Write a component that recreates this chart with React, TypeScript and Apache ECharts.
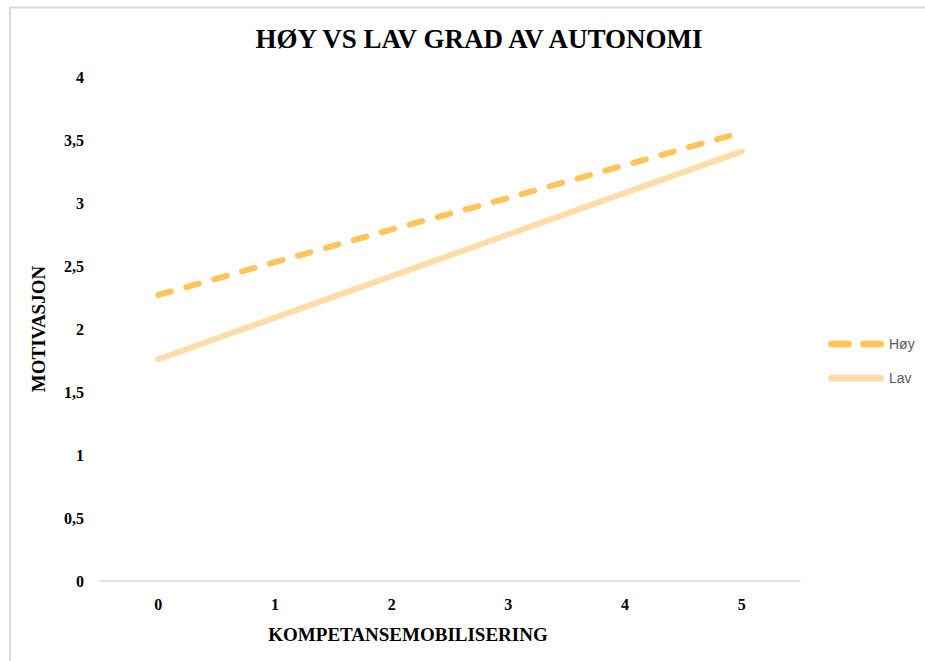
import React, { useEffect, useRef } from "react";
import * as echarts from "echarts";

const categories = ["0", "1", "2", "3", "4", "5"];
const hoyValues = [2.27, 2.53, 2.79, 3.04, 3.3, 3.56];
const lavValues = [1.76, 2.09, 2.42, 2.75, 3.08, 3.41];
const seriesNames = ["Høy", "Lav"];
const titleText = "HØY VS LAV GRAD AV AUTONOMI";
const xAxisName = "KOMPETANSEMOBILISERING";
const yAxisName = "MOTIVASJON";

const serif = "'Liberation Serif', 'Times New Roman', serif";
const sans = "'Liberation Sans', Arial, sans-serif";

const hoyColor = "#FFC55A";
const lavColor = "#FFDCA8";

const dashedIcon =
  "path://M3.5,0H17.5A3.5,3.5 0 0 1 17.5,7H3.5A3.5,3.5 0 0 1 3.5,0Z M31.5,0H45.5A3.5,3.5 0 0 1 45.5,7H31.5A3.5,3.5 0 0 1 31.5,0Z";
const solidIcon = "path://M3.5,0H52.5A3.5,3.5 0 0 1 52.5,7H3.5A3.5,3.5 0 0 1 3.5,0Z";

export default function App() {
  const ref = useRef<HTMLDivElement>(null);
  useEffect(() => {
    if (!ref.current) return;
    const chart = echarts.init(ref.current, undefined, { renderer: "svg" });
    chart.setOption({
      animation: false,
      backgroundColor: "#ffffff",
      title: {
        text: titleText,
        left: 474,
        textAlign: "center",
        top: 20,
        textStyle: { fontFamily: serif, fontWeight: "bold", fontSize: 27, color: "#000" },
      },
      graphic: [
        {
          type: "rect",
          shape: { x: 10, y: 7.5, width: 1200, height: 1000 },
          style: { fill: "none", stroke: "#d9d9d9", lineWidth: 2 },
          silent: true,
        },
      ],
      legend: {
        orient: "vertical",
        left: 823,
        top: 332,
        itemWidth: 56,
        itemHeight: 7,
        itemGap: 20,
        symbolKeepAspect: false,
        itemStyle: { borderWidth: 0 },
        textStyle: { fontFamily: sans, fontSize: 14, color: "#595959" },
        data: [
          { name: seriesNames[0], icon: dashedIcon, itemStyle: { color: hoyColor, borderWidth: 0 } },
          { name: seriesNames[1], icon: solidIcon, itemStyle: { color: lavColor, borderWidth: 0 } },
        ],
      },
      grid: { left: 100, right: 125, top: 77, bottom: 80, containLabel: false },
      xAxis: {
        type: "category",
        data: categories,
        boundaryGap: true,
        name: xAxisName,
        nameLocation: "middle",
        nameGap: 44,
        nameTextStyle: {
          fontFamily: serif,
          fontWeight: "bold",
          fontSize: 19,
          color: "#000",
          padding: [0, 84, 0, 0],
        },
        axisLine: { show: true, lineStyle: { color: "#d9d9d9", width: 1.5 } },
        axisTick: { show: false },
        axisLabel: { margin: 15, fontFamily: serif, fontWeight: "bold", fontSize: 16, color: "#000" },
        splitLine: { show: false },
      },
      yAxis: {
        type: "value",
        min: 0,
        max: 4,
        interval: 0.5,
        name: yAxisName,
        nameLocation: "middle",
        nameGap: 52,
        nameRotate: 90,
        nameTextStyle: { fontFamily: serif, fontWeight: "bold", fontSize: 19, color: "#000" },
        axisLine: { show: false },
        axisTick: { show: false },
        splitLine: { show: false },
        axisLabel: {
          margin: 16,
          fontFamily: serif,
          fontWeight: "bold",
          fontSize: 16,
          color: "#000",
          formatter: (v: number) => String(v).replace(".", ","),
        },
      },
      series: [
        {
          name: seriesNames[0],
          type: "line",
          data: hoyValues,
          symbol: "none",
          itemStyle: { color: hoyColor },
          lineStyle: { color: hoyColor, width: 6, type: [13, 16], cap: "round" },
        },
        {
          name: seriesNames[1],
          type: "line",
          data: lavValues,
          symbol: "none",
          itemStyle: { color: lavColor },
          lineStyle: { color: lavColor, width: 6, type: "solid", cap: "round" },
        },
      ],
    });
    return () => chart.dispose();
  }, []);
  return (
    <div
      ref={ref}
      style={{ position: "fixed", left: 0, top: 0, width: 925, height: 661 }}
    />
  );
}
